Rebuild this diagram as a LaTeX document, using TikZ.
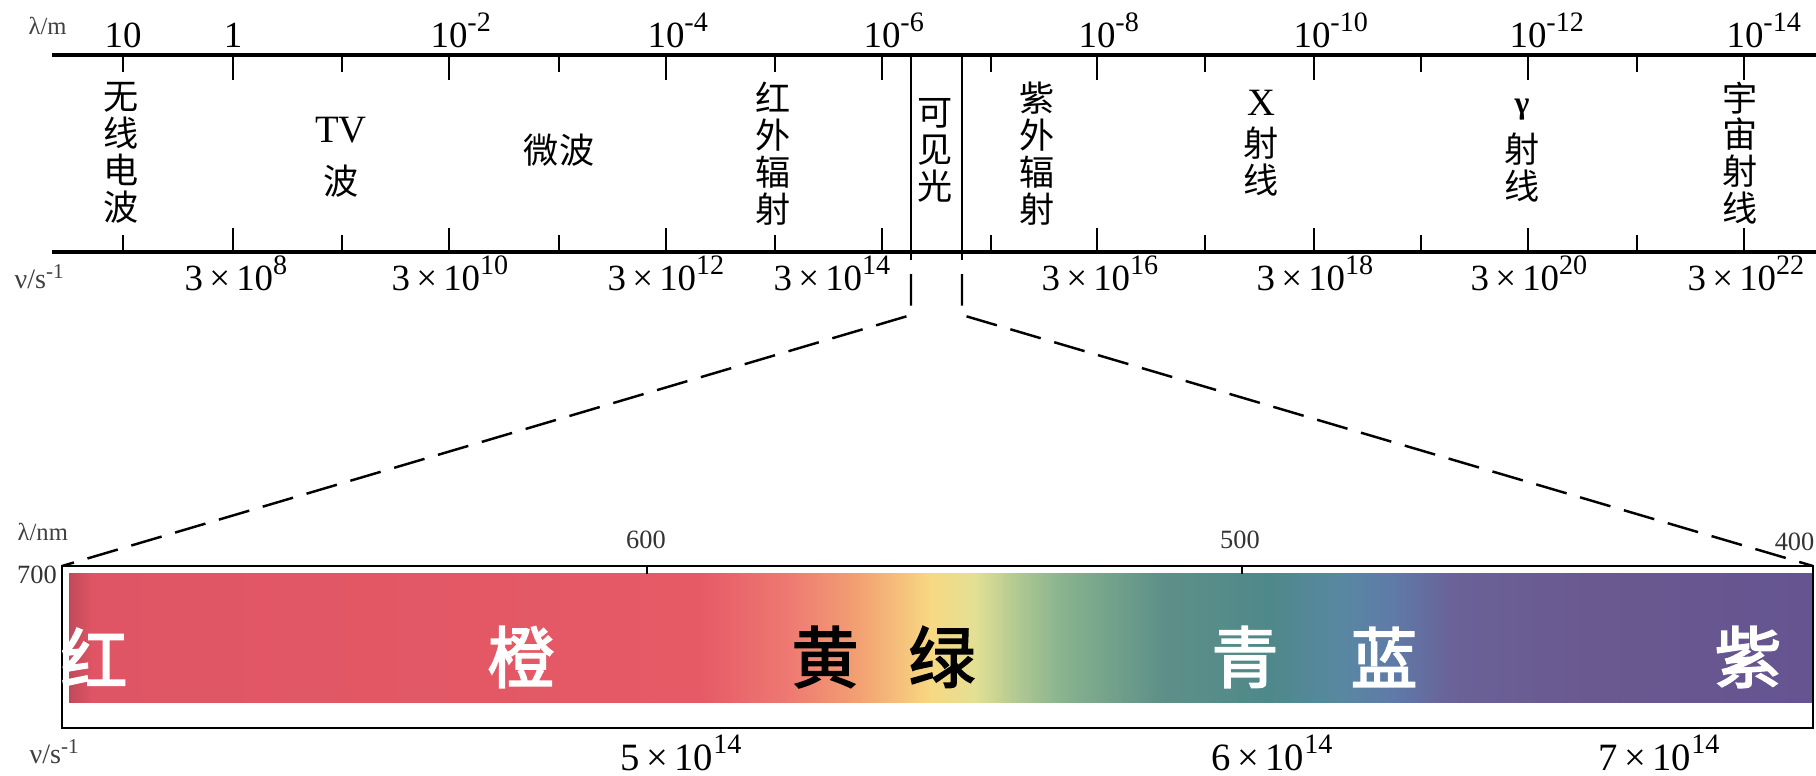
\documentclass[tikz,border=0pt]{standalone}
\usepackage{fontspec}
\setmainfont{Liberation Serif}
\newfontfamily\cjk{Noto Sans CJK SC}
\newfontfamily\cjkfb[FakeBold=2.5]{Noto Sans CJK SC}
\newcommand\mysup[1]{\raisebox{0.42em}{\fontsize{8}{8}\selectfont #1}}
\definecolor{s0}{HTML}{C04A5A}
\definecolor{s1}{HTML}{E05565}
\definecolor{s2}{HTML}{E65A66}
\definecolor{s3}{HTML}{EE7A72}
\definecolor{s4}{HTML}{F2A272}
\definecolor{s5}{HTML}{F8D882}
\definecolor{s6}{HTML}{E2E094}
\definecolor{s7}{HTML}{B8CC92}
\definecolor{s8}{HTML}{88B48E}
\definecolor{s9}{HTML}{5E9088}
\definecolor{s10}{HTML}{4F888A}
\definecolor{s11}{HTML}{5888A2}
\definecolor{s12}{HTML}{5F7AA8}
\definecolor{s13}{HTML}{6A6298}
\definecolor{s14}{HTML}{6A5890}
\definecolor{s15}{HTML}{645490}
\tikzset{
  axisline/.style={line width=0.9pt},
  tickline/.style={line width=0.65pt},
  boxline/.style={line width=0.8pt},
  dashline/.style={line width=0.7pt, dash pattern=on 9pt off 4pt, dash phase=9pt},
  lam/.style={inner sep=0pt, anchor=base, font=\fontsize{10.5}{11}\selectfont},
  nu/.style={inner sep=0pt, anchor=base, font=\fontsize{10.5}{11}\selectfont},
  unit/.style={inner sep=0pt, anchor=base west, font=\fontsize{7}{8}\selectfont, text=black!75},
  band/.style={inner sep=0pt, align=center, font=\cjk\fontsize{10}{10.5}\selectfont},
  small/.style={inner sep=0pt, anchor=base, font=\fontsize{7.5}{8}\selectfont, text=black!80},
  colname/.style={inner sep=0pt, font=\cjkfb\fontsize{19}{20}\selectfont},
}
\begin{document}
\begin{tikzpicture}[x=0.1mm,y=-0.1mm]
\useasboundingbox (0,0) rectangle (1816,775);
% ---------- upper scale ----------
\coordinate (tL) at (52,55);  \coordinate (tR) at (1816,55);
\coordinate (bL) at (52,252); \coordinate (bR) at (1816,252);
\draw[axisline] (tL) -- (tR);
\draw[axisline] (bL) -- (bR);
\foreach \x [count=\i] in {123,233,342,449,559,666,775,882,991,1097,1205,1314,1421,1528,1637,1744}{
  \ifodd\i
    \draw[tickline] (\x,55) -- (\x,72);
    \draw[tickline] (\x,252) -- (\x,235);
  \else
    \draw[tickline] (\x,55) -- (\x,80);
    \draw[tickline] (\x,252) -- (\x,228);
  \fi
}
\node[unit] (lamm) at (28,34) {λ/m};
\node[unit, font=\fontsize{8}{9}\selectfont] (nus) at (14,288) {ν/s\textsuperscript{-1}};
% wavelength labels
\node[lam] (w0) at (123,47) {10};
\node[lam] (w1) at (233,47) {1};
\node[lam] (w2) at (449,47) {10\rlap{\mysup{-2}}};
\node[lam] (w4) at (666,47) {10\rlap{\mysup{-4}}};
\node[lam] (w6) at (882,47) {10\rlap{\mysup{-6}}};
\node[lam] (w8) at (1097,47) {10\rlap{\mysup{-8}}};
\node[lam] (w10) at (1312,47) {10\rlap{\mysup{-10}}};
\node[lam] (w12) at (1528,47) {10\rlap{\mysup{-12}}};
\node[lam] (w14) at (1745,47) {10\rlap{\mysup{-14}}};
% frequency labels
\node[nu] (f8)  at (236,290)  {3\,×\,10\mysup{8}};
\node[nu] (f10) at (450,290)  {3\,×\,10\mysup{10}};
\node[nu] (f12) at (666,290)  {3\,×\,10\mysup{12}};
\node[nu] (f14) at (832,290)  {3\,×\,10\mysup{14}};
\node[nu] (f16) at (1100,290) {3\,×\,10\mysup{16}};
\node[nu] (f18) at (1315,290) {3\,×\,10\mysup{18}};
\node[nu] (f20) at (1529,290) {3\,×\,10\mysup{20}};
\node[nu] (f22) at (1746,290) {3\,×\,10\mysup{22}};
% band names
\node[band] (radio) at (121,153) {无\\线\\电\\波};
\node[band, font=\fontsize{11}{12}\selectfont] (tv) at (341,130) {TV};
\node[band] (tvb) at (341,181) {波};
\node[band] (micro) at (559,150) {微波};
\node[band] (ir) at (773,154) {红\\外\\辐\\射};
\node[band] (vis) at (935,150) {可\\见\\光};
\node[band] (uv) at (1037,154) {紫\\外\\辐\\射};
\node[band, font=\fontsize{11}{12}\selectfont] (xr) at (1261,103) {X};
\node[band, font=\bfseries\fontsize{9}{10}\selectfont] (gr) at (1522,110) {γ};
\node[band] (xrb) at (1261,162) {射\\线};
\node[band] (grb) at (1522,168) {射\\线};
\node[band] (cos) at (1740,153) {宇\\宙\\射\\线};
% ---------- lower spectrum ----------
\coordinate (boxTL) at (62,566);
\coordinate (boxTR) at (1813,566);
\coordinate (boxBR) at (1813,728);
\foreach \xa/\ca/\xb/\cb in {69/s0/92/s1, 92/s1/700/s2, 700/s2/790/s3, 790/s3/860/s4, 860/s4/930/s5, 930/s5/975/s6, 975/s6/1010/s7, 1010/s7/1060/s8, 1060/s8/1160/s9, 1160/s9/1270/s10, 1270/s10/1340/s11, 1340/s11/1395/s12, 1395/s12/1450/s13, 1450/s13/1600/s14, 1600/s14/1812/s15}{
  \shade[left color=\ca, right color=\cb] (\xa,573) rectangle (\xb+1,702);
}
\draw[boxline] (boxTL) rectangle (boxBR);
\draw[tickline] (647,566) -- (647,574);
\draw[tickline] (1242,566) -- (1242,574);
\node[unit] (lamnm) at (17,540) {λ/nm};
\node[small] (n700) at (37,583) {700};
\node[small] (n600) at (646,548) {600};
\node[small] (n500) at (1240,548) {500};
\node[small, anchor=base east] (n400) at (1815,550) {400};
\node[unit, font=\fontsize{8}{9}\selectfont] (nus2) at (29,763) {ν/s\textsuperscript{-1}};
\node[nu, font=\fontsize{11}{12}\selectfont] (g5) at (681,770) {5\,×\,10\mysup{14}};
\node[nu, font=\fontsize{11}{12}\selectfont] (g6) at (1272,770) {6\,×\,10\mysup{14}};
\node[nu, font=\fontsize{11}{12}\selectfont] (g7) at (1659,770) {7\,×\,10\mysup{14}};
% colour names
\node[colname, text=white] (cr) at (94,657) {红};
\node[colname, text=white] (co) at (521,657) {橙};
\node[colname, text=black] (cy) at (825,657) {黄};
\node[colname, text=black] (cg) at (942,657) {绿};
\node[colname, text=white] (cc) at (1245,657) {青};
\node[colname, text=white] (cb) at (1384,657) {蓝};
\node[colname, text=white] (cv) at (1748,657) {紫};
% ---------- connectors of the visible region ----------
\coordinate (vlT) at (911,55);  \coordinate (vlM) at (911,260); \coordinate (vlB) at (911,315);
\coordinate (vrT) at (962,55);  \coordinate (vrM) at (962,260); \coordinate (vrB) at (962,315);
\draw[axisline, line width=0.8pt] (vlT) -- (vlM);
\draw[axisline, line width=0.8pt] (vrT) -- (vrM);
\draw[dashline] (vlM) -- (vlB) -- (boxTL);
\draw[dashline] (vrM) -- (vrB) -- (boxTR);
\end{tikzpicture}
\end{document}
